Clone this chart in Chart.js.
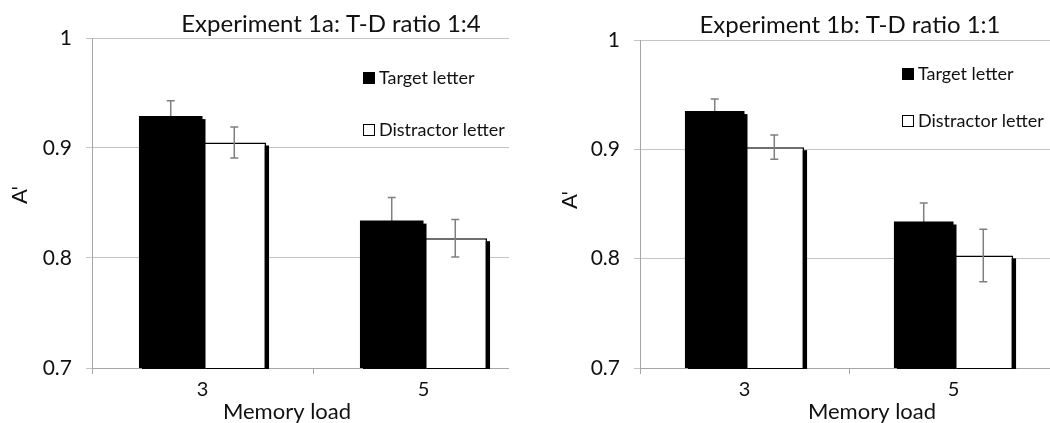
<!DOCTYPE html>
<html>
<head>
<meta charset="utf-8">
<script src="https://cdn.jsdelivr.net/npm/chart.js@4.4.1/dist/chart.umd.min.js"></script>
<style>
  body { margin: 0; background: #fff; width: 1050px; height: 423px; overflow: hidden; position: relative; }
  .box { position: absolute; top: 0; height: 423px; overflow: hidden; }
</style>
</head>
<body>
<div class="box" style="left:0;width:509px"><canvas id="c1" width="545" height="423"></canvas></div>
<div class="box" style="left:525px;width:525px"><canvas id="c2" width="540" height="423"></canvas></div>
<script>
// data
var memoryLoad = ['3', '5']
var yTicks = [0.7, 0.8, 0.9, 1]

var targetA = [0.929, 0.834]
var targetErrA = [0.014, 0.021]
var distractorA = [0.905, 0.818]
var distractorErrA = [0.014, 0.017]

var targetB = [0.935, 0.834]
var targetErrB = [0.011, 0.017]
var distractorB = [0.902, 0.803]
var distractorErrB = [0.011, 0.024]

var FONT = 'Lato, "Open Sans", sans-serif'

function drawErrors(chart, i) {
  var ctx = chart.ctx
  var ds = chart.data.datasets[i]
  var meta = chart.getDatasetMeta(i)
  var y = chart.scales.y
  ctx.save()
  ctx.strokeStyle = '#7f7f7f'
  ctx.lineWidth = 1.5
  meta.data.forEach(function (bar, j) {
    var v = ds.data[j], e = ds.err[j]
    var top = y.getPixelForValue(v + e), bot = y.getPixelForValue(v - e)
    ctx.beginPath()
    ctx.moveTo(bar.x, top); ctx.lineTo(bar.x, bot)
    ctx.moveTo(bar.x - 4, top); ctx.lineTo(bar.x + 4, top)
    ctx.moveTo(bar.x - 4, bot); ctx.lineTo(bar.x + 4, bot)
    ctx.stroke()
  })
  ctx.restore()
}

function drawShadow(chart, i) {
  var ctx = chart.ctx
  var meta = chart.getDatasetMeta(i)
  var bottom = chart.chartArea.bottom + 1
  ctx.save()
  ctx.fillStyle = '#000'
  meta.data.forEach(function (bar) {
    var left = bar.x - bar.width / 2
    ctx.fillRect(left + 3, bar.y + 3, bar.width, bottom - bar.y - 3)
  })
  ctx.restore()
}

var barPlugin = {
  id: 'barExtras',
  beforeDatasetDraw: function (chart, args) {
    // target error bars sit behind the black bars
    if (args.index === 0) drawErrors(chart, 0)
    drawShadow(chart, args.index)
  },
  afterDatasetDraw: function (chart, args) {
    if (args.index === 1) drawErrors(chart, 1)
  },
  afterDraw: function (chart, args, o) {
    var ctx = chart.ctx
    ctx.save()
    ctx.fillStyle = '#111'
    ctx.textBaseline = 'middle'
    ctx.textAlign = 'center'
    ctx.font = '24px ' + FONT
    ctx.fillText(o.title, o.titleX, o.titleY)
    ctx.font = '22px ' + FONT
    ctx.fillText('Memory load', o.xTitleX, 412)
    ctx.save()
    ctx.translate(o.yTitleX, o.yTitleY)
    ctx.rotate(-Math.PI / 2)
    ctx.fillText("A'", 0, 0)
    ctx.restore()
    // legend
    ctx.textAlign = 'left'
    ctx.font = '18px ' + FONT
    ctx.fillStyle = '#000'
    ctx.fillRect(o.legX, o.legY1 - 6, 12, 12)
    ctx.strokeStyle = '#000'
    ctx.lineWidth = 1
    ctx.strokeRect(o.legX + 0.5, o.legY2 - 5.5, 11, 11)
    ctx.fillStyle = '#111'
    ctx.fillText('Target letter', o.legX + 16, o.legY1)
    ctx.fillText('Distractor letter', o.legX + 16, o.legY2)
    ctx.restore()
  }
}

function makeChart(id, target, targetErr, distractor, distractorErr, o) {
  return new Chart(document.getElementById(id), {
    type: 'bar',
    data: {
      labels: memoryLoad,
      datasets: [
        { label: 'Target letter', data: target, err: targetErr, backgroundColor: '#000', borderWidth: 0 },
        { label: 'Distractor letter', data: distractor, err: distractorErr, backgroundColor: '#fff', borderColor: '#000', borderWidth: 1.5 }
      ]
    },
    options: {
      responsive: false,
      animation: false,
      datasets: { bar: { categoryPercentage: o.catPct, barPercentage: 1 } },
      layout: { padding: { top: o.top, right: o.padRight, left: 0, bottom: 0 } },
      plugins: {
        legend: { display: false },
        tooltip: { enabled: false },
        barExtras: o
      },
      scales: {
        x: {
          grid: { offset: true, drawOnChartArea: false, tickLength: 6, color: '#a6a6a6' },
          border: { color: '#a6a6a6' },
          ticks: { color: '#111', font: { family: FONT, size: 20 }, padding: 4 },
          afterFit: function (s) { s.height = 423 - 368 }
        },
        y: {
          min: 0.7,
          max: 1,
          afterBuildTicks: function (s) { s.ticks = yTicks.map(function (v) { return { value: v } }) },
          ticks: {
            color: '#111',
            font: { family: FONT, size: 21 },
            padding: 14,
            callback: function (v) { return String(+v.toFixed(1)) }
          },
          grid: { color: '#c4c4c4', tickLength: 6 },
          border: { color: '#a6a6a6' },
          afterFit: function (s) { s.width = o.left }
        }
      }
    },
    plugins: [barPlugin]
  })
}

makeChart('c1', targetA, targetErrA, distractorA, distractorErrA, {
  title: 'Experiment 1a: T-D ratio 1:4', titleX: 331, titleY: 24,
  xTitleX: 287, yTitleX: 20, yTitleY: 195,
  legX: 363, legY1: 78, legY2: 130,
  left: 92, top: 38, padRight: 11, catPct: 0.575
})

makeChart('c2', targetB, targetErrB, distractorB, distractorErrB, {
  title: 'Experiment 1b: T-D ratio 1:1', titleX: 325, titleY: 25,
  xTitleX: 347, yTitleX: 45, yTitleY: 200,
  legX: 377, legY1: 74, legY2: 121,
  left: 115, top: 40, padRight: 7, catPct: 0.57
})
</script>
</body>
</html>
